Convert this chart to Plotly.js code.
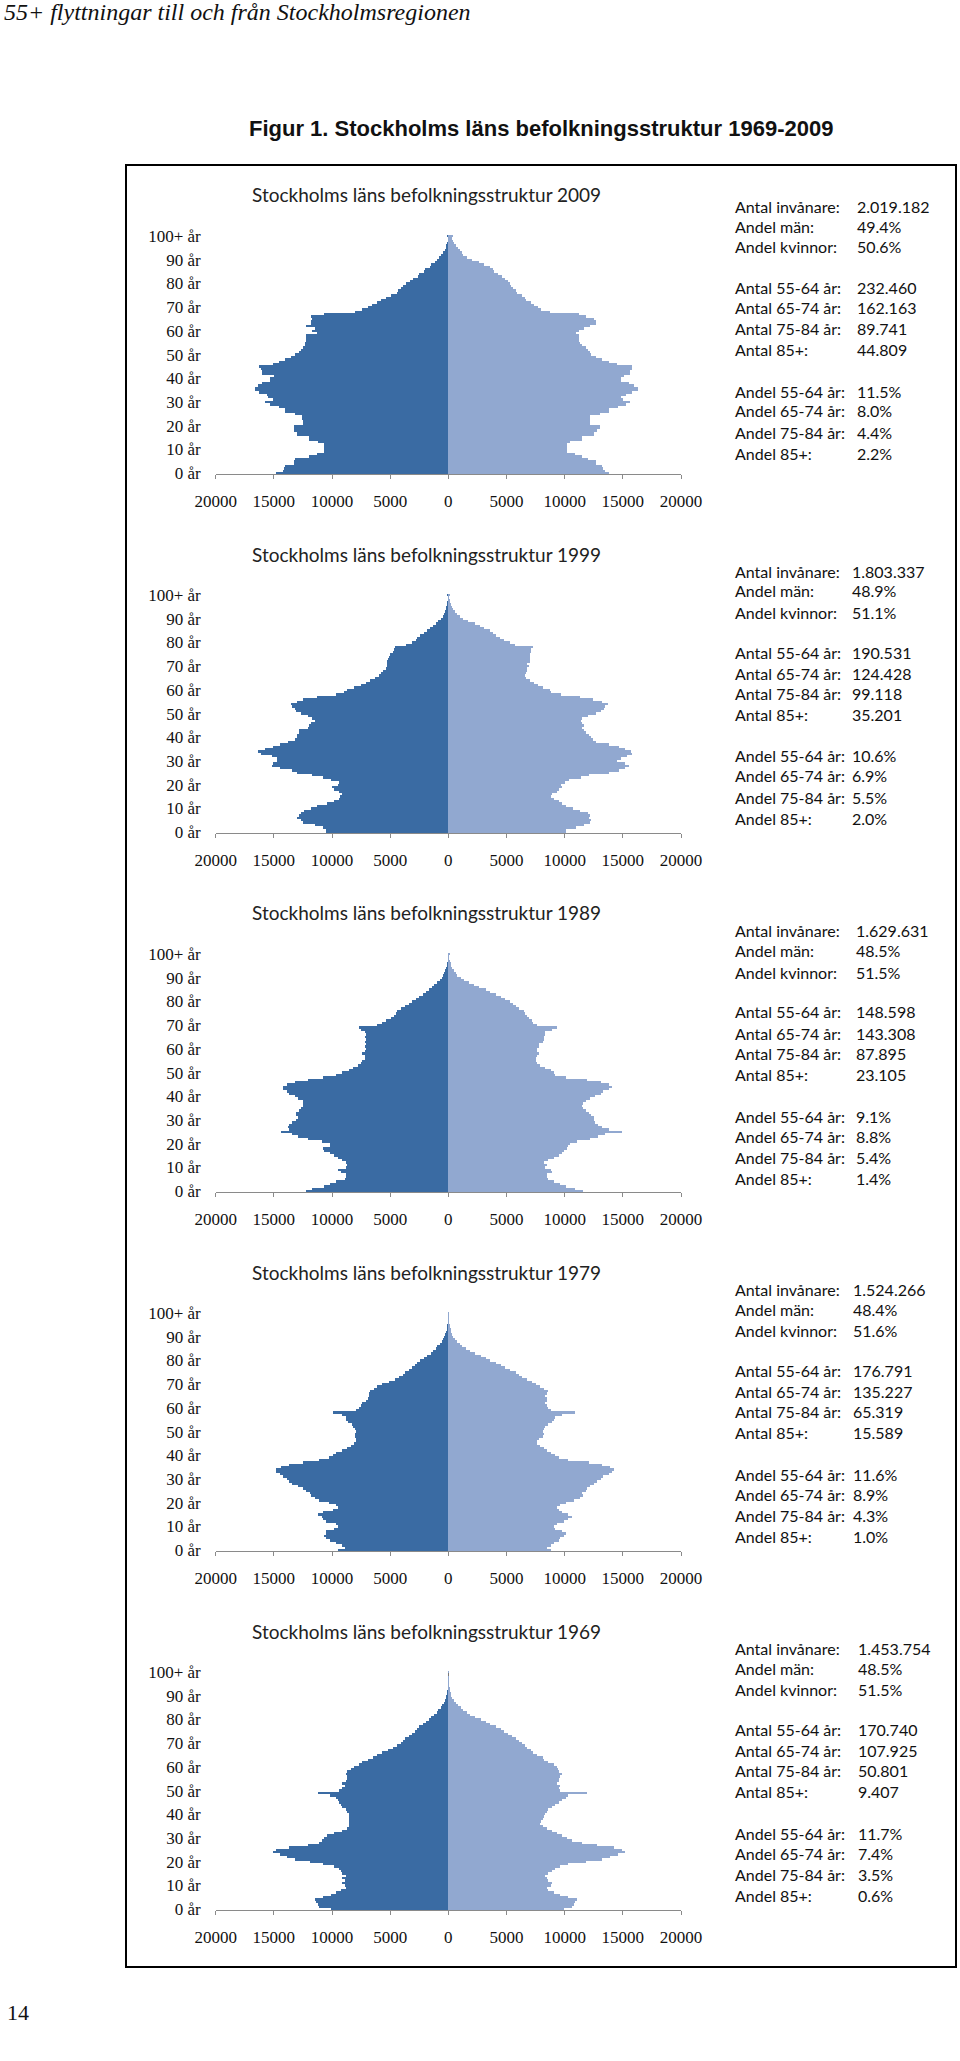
<!DOCTYPE html>
<html>
<head>
<meta charset="utf-8">
<script src="https://cdn.plot.ly/plotly-3.0.1.min.js"></script>
<style>
  body { margin: 0; background: #fff; }
  #chart { width: 960px; height: 2061px; }
</style>
</head>
<body>
<div id="chart"></div>
<script>
// Stockholms läns befolkningsstruktur 1969-2009
// values in thousands of persons per one-year age class (0 .. 100+)

var ageTicks = [0, 10, 20, 30, 40, 50, 60, 70, 80, 90, 100];
var ageTickText = ['0 år', '10 år', '20 år', '30 år', '40 år', '50 år', '60 år', '70 år', '80 år', '90 år', '100+ år'];
var popTicks = [-20, -15, -10, -5, 0, 5, 10, 15, 20];
var popTickText = ['20000', '15000', '10000', '5000', '0', '5000', '10000', '15000', '20000'];

var years = [2009, 1999, 1989, 1979, 1969];

var men2009 = [14.8,14.2,14.1,14.0,13.3,13.3,13.2,12.0,11.3,10.7, 10.7,10.7,10.7,11.2,12.0,12.0,13.0,13.0,13.3,13.3,
  13.3,12.5,12.5,12.6,12.6,13.2,14.0,14.0,14.6,15.3, 15.8,15.1,15.5,15.6,16.3,16.6,16.6,16.4,16.0,15.3,
  15.3,15.0,16.0,16.0,16.1,16.3,15.1,14.6,14.0,13.5, 13.2,12.8,12.7,12.5,12.3,12.3,12.2,12.2,12.2,11.3,
  11.7,11.5,12.2,11.8,11.8,11.7,11.8,10.7,8.0,7.4, 6.9,6.6,6.1,5.8,5.4,4.9,4.4,4.3,4.1,3.9,
  3.6,3.3,3.0,2.6,2.5,2.1,2.0,1.6,1.5,1.15, 1.0,0.8,0.65,0.5,0.33,0.23,0.16,0.1,0.07,0.05, 0.1];
var women2009 = [13.8,13.5,13.3,13.2,12.7,12.7,12.0,11.5,10.9,10.2, 10.2,10.2,10.2,10.5,11.5,11.5,12.5,12.5,12.8,13.0,
  13.0,12.2,12.2,12.2,12.2,13.0,13.8,13.8,14.6,15.3, 15.6,15.0,14.8,15.3,15.8,16.3,16.3,16.0,15.5,14.8,
  14.8,15.1,15.6,15.6,15.8,15.8,14.5,13.8,13.2,12.7, 12.3,12.2,12.0,11.8,11.5,11.3,11.2,11.2,11.2,11.0,
  11.2,11.7,12.2,12.7,12.7,12.5,11.8,11.2,8.7,8.0, 7.7,7.4,7.1,6.7,6.6,6.3,5.9,5.8,5.6,5.4,
  5.3,5.1,4.9,4.6,4.3,3.9,3.8,3.6,3.1,2.6, 2.0,1.6,1.3,1.15,1.0,0.8,0.65,0.5,0.4,0.3, 0.4];

var men1999 = [10.5,10.5,10.8,11.5,12.5,12.7,13.0,12.8,12.7,12.4, 11.8,11.3,10.4,9.8,9.4,9.3,9.1,9.4,9.8,10.0,
  9.5,9.4,10.1,10.8,11.7,13.0,13.4,14.5,15.2,15.1, 14.7,14.7,15.2,16.1,16.4,15.8,15.1,14.5,13.8,13.2,
  13.0,13.0,12.8,12.8,12.1,12.0,11.8,11.5,11.7,12.1, 12.7,13.1,13.2,13.4,13.5,13.0,12.5,11.3,9.7,9.0,
  8.7,8.1,7.5,7.1,6.7,6.3,6.0,5.8,5.6,5.4, 5.3,5.3,5.3,5.2,5.1,5.0,4.8,4.7,4.6,3.6,
  3.1,2.8,2.7,2.4,2.1,1.85,1.6,1.3,1.05,0.85, 0.65,0.5,0.37,0.28,0.22,0.17,0.12,0.08,0.05,0.04, 0.08];
var women1999 = [10.1,10.1,11.0,11.7,12.2,12.3,12.1,12.2,12.0,11.3, 10.7,10.1,9.8,9.5,9.1,8.8,8.9,9.3,9.5,9.8,
  9.7,10.0,10.4,11.4,12.1,13.8,14.7,15.2,15.5,15.2, 14.5,14.8,15.4,15.8,15.7,15.2,14.7,13.8,12.7,12.4,
  12.3,12.1,11.8,11.7,11.5,11.7,11.5,11.4,11.5,12.0, 12.7,13.1,13.4,13.5,13.7,13.2,12.4,11.3,9.7,8.8,
  8.7,8.1,7.7,7.4,7.0,6.7,6.6,6.7,6.8,6.8, 6.9,6.8,7.0,7.0,7.0,7.0,7.1,7.1,7.3,5.7,
  5.3,4.8,4.4,4.1,3.8,3.6,3.1,2.7,2.3,1.7, 1.3,1.0,0.77,0.57,0.43,0.31,0.23,0.16,0.12,0.09, 0.15];

var men1989 = [12.2,11.7,10.7,10.2,9.7,8.9,8.8,8.8,9.2,9.5, 8.8,8.7,8.8,9.1,9.5,9.8,10.2,10.7,10.8,10.2,
  10.2,10.9,12.1,12.9,13.4,14.4,13.7,13.8,13.7,13.4, 13.1,12.9,13.1,13.1,12.8,12.7,12.5,12.5,12.5,12.9,
  13.2,13.7,13.9,14.2,14.2,13.9,13.2,12.1,10.8,9.7, 9.1,8.5,8.2,7.8,7.5,7.4,7.2,7.2,7.4,7.2,
  7.1,7.2,7.1,7.2,7.1,7.2,7.1,7.2,7.5,7.7, 6.1,5.7,5.4,4.9,4.7,4.5,4.4,4.1,3.7,3.4,
  3.1,2.8,2.5,2.2,1.9,1.65,1.4,1.2,0.95,0.75, 0.57,0.45,0.34,0.26,0.19,0.14,0.1,0.07,0.05,0.03, 0.05];
var women1989 = [11.6,10.9,10.1,9.6,9.1,8.6,8.5,8.5,8.9,8.8, 8.3,8.5,8.2,8.6,9.1,9.5,9.8,9.9,10.2,10.3,
  10.5,11.1,12.2,12.9,13.5,14.9,13.8,13.2,12.9,12.6, 12.5,12.5,12.3,12.1,11.8,11.6,11.5,11.6,11.8,12.2,
  12.6,13.1,13.3,13.8,14.1,13.8,13.1,11.9,10.1,9.2, 9.1,8.8,8.3,7.9,7.6,7.5,7.5,7.6,7.8,7.6,
  7.6,7.8,7.8,8.1,8.2,8.2,8.3,8.3,8.9,9.3, 7.6,7.3,7.2,6.9,6.8,6.6,6.5,6.1,5.8,5.6,
  5.3,4.9,4.5,4.1,3.6,3.2,2.6,2.2,1.8,1.35, 1.05,0.77,0.63,0.47,0.35,0.26,0.19,0.13,0.09,0.06, 0.12];

var men1979 = [9.5,8.9,9.1,9.7,10.2,10.5,10.7,10.5,10.5,9.8, 9.5,9.7,10.5,10.8,10.9,11.2,10.8,9.9,9.5,9.7,
  10.3,11.1,11.5,11.8,11.9,12.2,12.5,12.9,13.4,13.7, 13.9,14.2,14.5,14.8,14.8,14.4,13.7,12.5,11.1,10.3,
  9.9,9.7,9.1,8.7,8.4,8.1,7.9,7.9,8.0,8.0, 7.9,8.0,8.2,8.3,8.6,8.8,8.8,9.1,9.9,7.9,
  7.7,7.5,7.4,7.1,6.9,6.8,6.8,6.7,6.4,6.1, 5.7,5.1,4.6,4.2,3.9,3.7,3.4,3.1,2.9,2.7,
  2.4,2.1,1.8,1.5,1.3,1.1,0.95,0.75,0.57,0.45, 0.34,0.26,0.2,0.15,0.11,0.08,0.06,0.04,0.03,0.02, 0.03];
var women1979 = [8.8,8.5,8.8,9.1,9.5,9.6,9.9,10.1,9.8,9.2, 9.1,9.3,9.9,10.3,10.6,10.3,9.8,9.5,9.3,9.6,
  10.1,10.8,11.3,11.6,11.5,11.8,11.9,12.2,12.5,12.8, 13.1,13.3,13.8,14.1,14.2,13.9,13.2,12.1,10.3,9.5,
  9.2,8.8,8.5,8.2,7.9,7.6,7.6,7.8,8.1,8.2, 8.1,8.2,8.3,8.6,8.9,9.1,9.2,9.8,10.9,8.8,
  8.6,8.5,8.3,8.5,8.5,8.3,8.5,8.6,8.2,7.9, 7.5,7.2,6.8,6.3,6.1,5.8,5.3,4.9,4.5,4.1,
  3.6,3.2,2.8,2.3,1.9,1.5,1.2,0.97,0.77,0.57, 0.43,0.33,0.26,0.2,0.15,0.11,0.08,0.06,0.04,0.03, 0.05];

var men1969 = [10.1,11.1,11.2,11.4,11.5,10.8,10.1,9.7,9.2,8.8, 8.9,9.1,8.9,9.1,8.8,9.1,9.2,9.4,9.8,10.8,
  11.9,13.2,13.9,14.5,15.1,14.8,13.7,12.1,11.1,10.9, 10.7,10.4,9.8,9.1,8.7,8.5,8.5,8.5,8.5,8.5,
  8.5,8.7,8.8,9.1,9.2,9.4,9.5,9.7,10.2,11.2, 9.4,9.1,8.9,9.1,8.8,8.7,8.7,8.8,8.7,8.4,
  8.1,7.7,7.4,6.9,6.5,6.1,5.7,5.2,4.8,4.4, 4.1,3.9,3.7,3.4,3.1,2.9,2.7,2.5,2.2,1.9,
  1.7,1.5,1.2,1.0,0.85,0.65,0.51,0.4,0.28,0.23, 0.17,0.12,0.09,0.06,0.04,0.03,0.02,0.015,0.01,0.01, 0.02];
var women1969 = [9.9,10.6,10.8,10.9,11.1,10.3,9.6,9.1,8.6,8.5, 8.8,8.9,8.6,8.5,8.3,8.6,8.9,9.2,9.6,10.3,
  11.8,13.2,13.9,14.6,15.2,14.9,14.2,12.8,11.5,10.6, 10.2,9.8,9.3,8.9,8.5,8.1,7.9,8.0,8.1,8.2,
  8.3,8.5,8.6,8.9,9.2,9.5,9.8,10.1,10.3,11.9, 9.6,9.5,9.6,9.3,9.5,9.5,9.6,9.8,9.5,9.4,
  9.3,9.1,8.6,8.2,8.1,7.6,7.3,7.1,6.8,6.6, 6.3,6.1,5.8,5.5,5.1,4.8,4.5,4.1,3.6,3.2,
  2.8,2.3,1.9,1.6,1.3,1.05,0.85,0.63,0.48,0.34, 0.26,0.19,0.14,0.1,0.07,0.05,0.03,0.02,0.015,0.01, 0.03];

var statLabels = ['Antal invånare:', 'Andel män:', 'Andel kvinnor:',
  'Antal 55-64 år:', 'Antal 65-74 år:', 'Antal 75-84 år:', 'Antal 85+:',
  'Andel 55-64 år:', 'Andel 65-74 år:', 'Andel 75-84 år:', 'Andel 85+:'];
var stats2009 = ['2.019.182', '49.4%', '50.6%', '232.460', '162.163', '89.741', '44.809', '11.5%', '8.0%', '4.4%', '2.2%'];
var stats1999 = ['1.803.337', '48.9%', '51.1%', '190.531', '124.428', '99.118', '35.201', '10.6%', '6.9%', '5.5%', '2.0%'];
var stats1989 = ['1.629.631', '48.5%', '51.5%', '148.598', '143.308', '87.895', '23.105', '9.1%', '8.8%', '5.4%', '1.4%'];
var stats1979 = ['1.524.266', '48.4%', '51.6%', '176.791', '135.227', '65.319', '15.589', '11.6%', '8.9%', '4.3%', '1.0%'];
var stats1969 = ['1.453.754', '48.5%', '51.5%', '170.740', '107.925', '50.801', '9.407', '11.7%', '7.4%', '3.5%', '0.6%'];

var menByYear = [men2009, men1999, men1989, men1979, men1969];
var womenByYear = [women2009, women1999, women1989, women1979, women1969];
var statsByYear = [stats2009, stats1999, stats1989, stats1979, stats1969];

// page geometry (pixels)
var W = 960, H = 2061;
function px(x) { return x / W; }
function py(y) { return 1 - y / H; }

var ages = menByYear[0].map(function (v, i) { return i; });
var step = 359;                 // vertical distance between the pyramids
var statTop = [206, 571, 931, 1289, 1648];
var statValueX = [855, 850, 854, 851, 856];
var statRowOffset = [0, 20, 41, 81, 102, 122, 143, 185, 205, 226, 247];

var menColor = '#3A6BA3';
var womenColor = '#91A8D0';
var tickFont = {family: 'Liberation Serif, Times New Roman, serif', size: 17, color: '#111'};
var textFont = {family: 'Lato, Open Sans, sans-serif', size: 16, color: '#111'};

var data = [];
var layout = {
  width: W,
  height: H,
  margin: {l: 0, r: 0, t: 0, b: 0},
  paper_bgcolor: '#fff',
  plot_bgcolor: 'rgba(0,0,0,0)',
  showlegend: false,
  barmode: 'overlay',
  bargap: 0,
  annotations: [],
  shapes: [{
    type: 'rect', xref: 'paper', yref: 'paper',
    x0: px(126), x1: px(956), y0: py(1967), y1: py(165),
    line: {color: '#000', width: 2}
  }]
};

years.forEach(function (year, i) {
  var n = i === 0 ? '' : String(i + 1);
  var bottom = 474.3 + step * i;
  var top = bottom - 239.4;

  data.push({
    type: 'bar', orientation: 'h',
    x: menByYear[i].map(function (v) { return -v; }),
    y: ages,
    xaxis: 'x' + n, yaxis: 'y' + n,
    marker: {color: menColor, line: {width: 0}},
    hoverinfo: 'skip'
  });
  data.push({
    type: 'bar', orientation: 'h',
    x: womenByYear[i],
    y: ages,
    xaxis: 'x' + n, yaxis: 'y' + n,
    marker: {color: womenColor, line: {width: 0}},
    hoverinfo: 'skip'
  });

  layout['xaxis' + n] = {
    domain: [px(215.7), px(681)],
    anchor: 'y' + n,
    range: [-20, 20],
    tickvals: popTicks,
    ticktext: popTickText,
    tickfont: tickFont,
    ticks: 'outside', ticklen: 4, tickcolor: '#8a8a8a',
    ticklabelstandoff: 7,
    showline: true, linecolor: '#8a8a8a', linewidth: 1,
    showgrid: false,
    zeroline: true, zerolinecolor: '#7a7a7a', zerolinewidth: 1,
    fixedrange: true
  };
  layout['yaxis' + n] = {
    domain: [py(bottom), py(top)],
    anchor: 'x' + n,
    range: [-0.5, 100.5],
    tickvals: ageTicks,
    ticktext: ageTickText,
    tickfont: tickFont,
    ticks: '',
    ticklabelstandoff: 14,
    showline: false, showgrid: false, zeroline: false,
    fixedrange: true
  };

  layout.annotations.push({
    xref: 'paper', yref: 'paper',
    x: px(426), y: py(195 + step * i),
    xanchor: 'center', yanchor: 'middle',
    text: 'Stockholms läns befolkningsstruktur ' + year,
    showarrow: false,
    font: {family: 'Lato, Open Sans, sans-serif', size: 19, color: '#222'}
  });

  statLabels.forEach(function (label, r) {
    var yy = statTop[i] + statRowOffset[r];
    layout.annotations.push({
      xref: 'paper', yref: 'paper', x: px(733), y: py(yy),
      xanchor: 'left', yanchor: 'middle', showarrow: false,
      text: label, font: textFont
    });
    layout.annotations.push({
      xref: 'paper', yref: 'paper', x: px(statValueX[i]), y: py(yy),
      xanchor: 'left', yanchor: 'middle', showarrow: false,
      text: statsByYear[i][r], font: textFont
    });
  });
});

// page header, figure caption and page number
layout.annotations.push({
  xref: 'paper', yref: 'paper', x: px(2), y: py(12),
  xanchor: 'left', yanchor: 'middle', showarrow: false,
  text: '<i>55+ flyttningar till och från Stockholmsregionen</i>',
  font: {family: 'Liberation Serif, Times New Roman, serif', size: 24, color: '#111'}
});
layout.annotations.push({
  xref: 'paper', yref: 'paper', x: px(541), y: py(129),
  xanchor: 'center', yanchor: 'middle', showarrow: false,
  text: '<b>Figur 1. Stockholms läns befolkningsstruktur 1969-2009</b>',
  font: {family: 'Liberation Sans Narrow, Arial Narrow, Liberation Sans, sans-serif', size: 22, color: '#111'}
});
layout.annotations.push({
  xref: 'paper', yref: 'paper', x: px(5), y: py(2012),
  xanchor: 'left', yanchor: 'middle', showarrow: false,
  text: '14',
  font: {family: 'Liberation Serif, Times New Roman, serif', size: 22, color: '#111'}
});

Plotly.newPlot('chart', data, layout, {displayModeBar: false, staticPlot: true});
</script>
</body>
</html>
